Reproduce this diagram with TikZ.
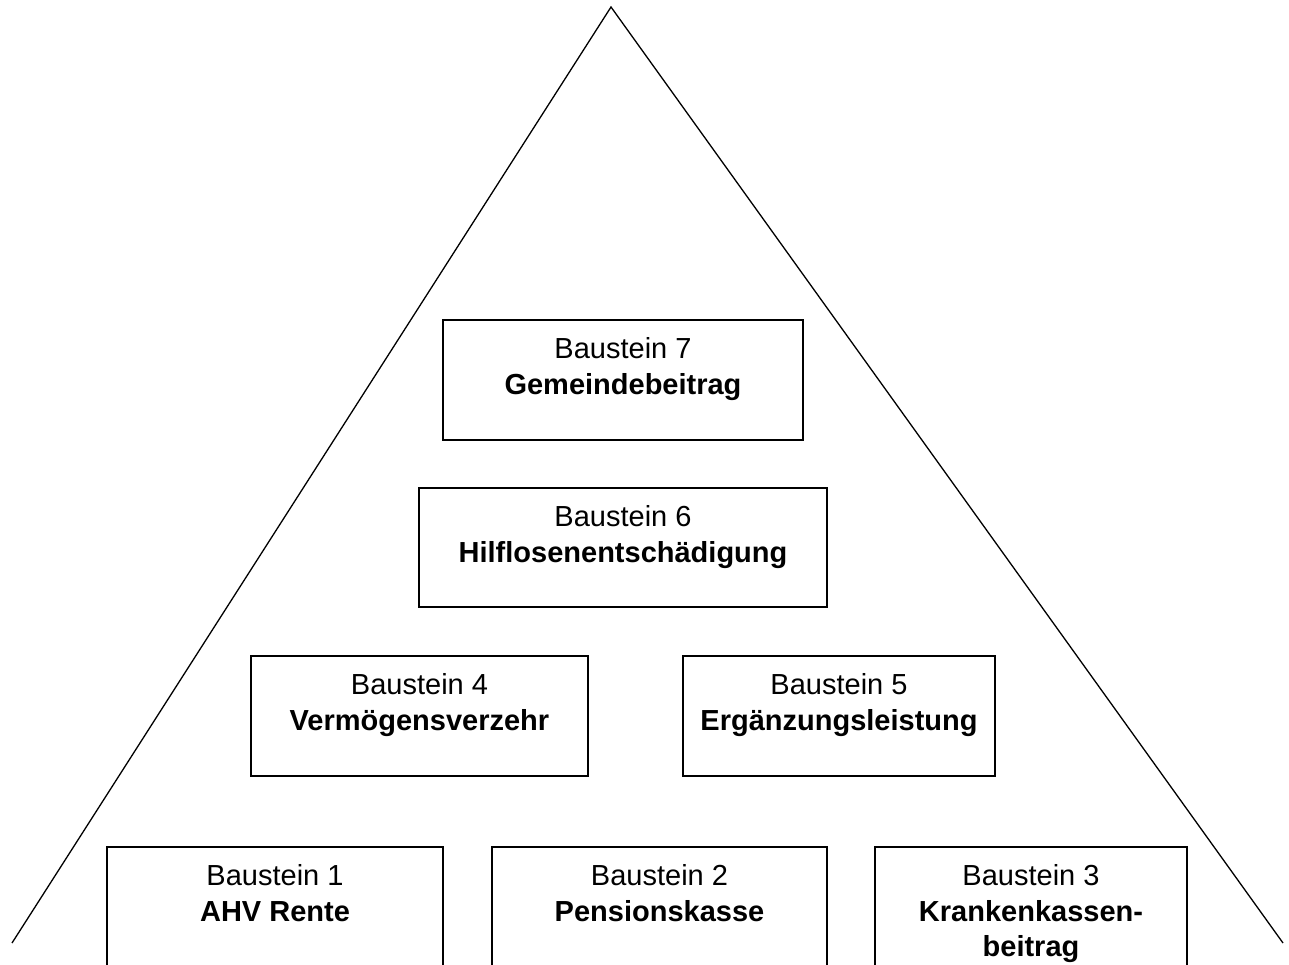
\documentclass[tikz,border=0pt]{standalone}
\usepackage{fontspec}
\setmainfont{Liberation Sans}
\tikzset{
  box/.style={draw=black, line width=1.4pt, rectangle, inner sep=0pt, fill=none},
  lbl/.style={font=\fontsize{29}{34}\selectfont, inner sep=0pt, anchor=base},
  edge/.style={draw=black, line width=1.3pt}
}
\begin{document}
\begin{tikzpicture}[x=1pt,y=-1pt]
\useasboundingbox (0,0) rectangle (1289,964);
\clip (0,0) rectangle (1289,964);
% triangle
\coordinate (apex) at (611,7);
\coordinate (bl) at (12,943);
\coordinate (br) at (1283,943);
\draw[edge] (bl) -- (apex) -- (br);
% boxes
\node[box, minimum width=360pt, minimum height=120pt] (b7) at (623,380) {};
\node[box, minimum width=408pt, minimum height=119pt] (b6) at (623,547.5) {};
\node[box, minimum width=337pt, minimum height=120pt] (b4) at (419.5,716) {};
\node[box, minimum width=312pt, minimum height=120pt] (b5) at (839,716) {};
\node[box, minimum width=336pt, minimum height=160pt] (b1) at (275,927) {};
\node[box, minimum width=335pt, minimum height=160pt] (b2) at (659.5,927) {};
\node[box, minimum width=312pt, minimum height=160pt] (b3) at (1031,927) {};
% labels
\node[lbl] (t7a) at ([yshift=-39.5pt]b7.north) {Baustein 7};
\node[lbl] (t7b) at ([yshift=-75pt]b7.north) {\textbf{Gemeindebeitrag}};
\node[lbl] (t6a) at ([yshift=-39.5pt]b6.north) {Baustein 6};
\node[lbl] (t6b) at ([yshift=-75pt]b6.north) {\textbf{Hilflosenentschädigung}};
\node[lbl] (t4a) at ([yshift=-39.5pt]b4.north) {Baustein 4};
\node[lbl] (t4b) at ([yshift=-75pt]b4.north) {\textbf{Vermögensverzehr}};
\node[lbl] (t5a) at ([yshift=-39.5pt]b5.north) {Baustein 5};
\node[lbl] (t5b) at ([yshift=-75pt]b5.north) {\textbf{Ergänzungsleistung}};
\node[lbl] (t1a) at ([yshift=-39.5pt]b1.north) {Baustein 1};
\node[lbl] (t1b) at ([yshift=-75pt]b1.north) {\textbf{AHV Rente}};
\node[lbl] (t2a) at ([yshift=-39.5pt]b2.north) {Baustein 2};
\node[lbl] (t2b) at ([yshift=-75pt]b2.north) {\textbf{Pensionskasse}};
\node[lbl] (t3a) at ([yshift=-39.5pt]b3.north) {Baustein 3};
\node[lbl] (t3b) at ([yshift=-75pt]b3.north) {\textbf{Krankenkassen-}};
\node[lbl] (t3c) at ([yshift=-110.5pt]b3.north) {\textbf{beitrag}};
\end{tikzpicture}
\end{document}
